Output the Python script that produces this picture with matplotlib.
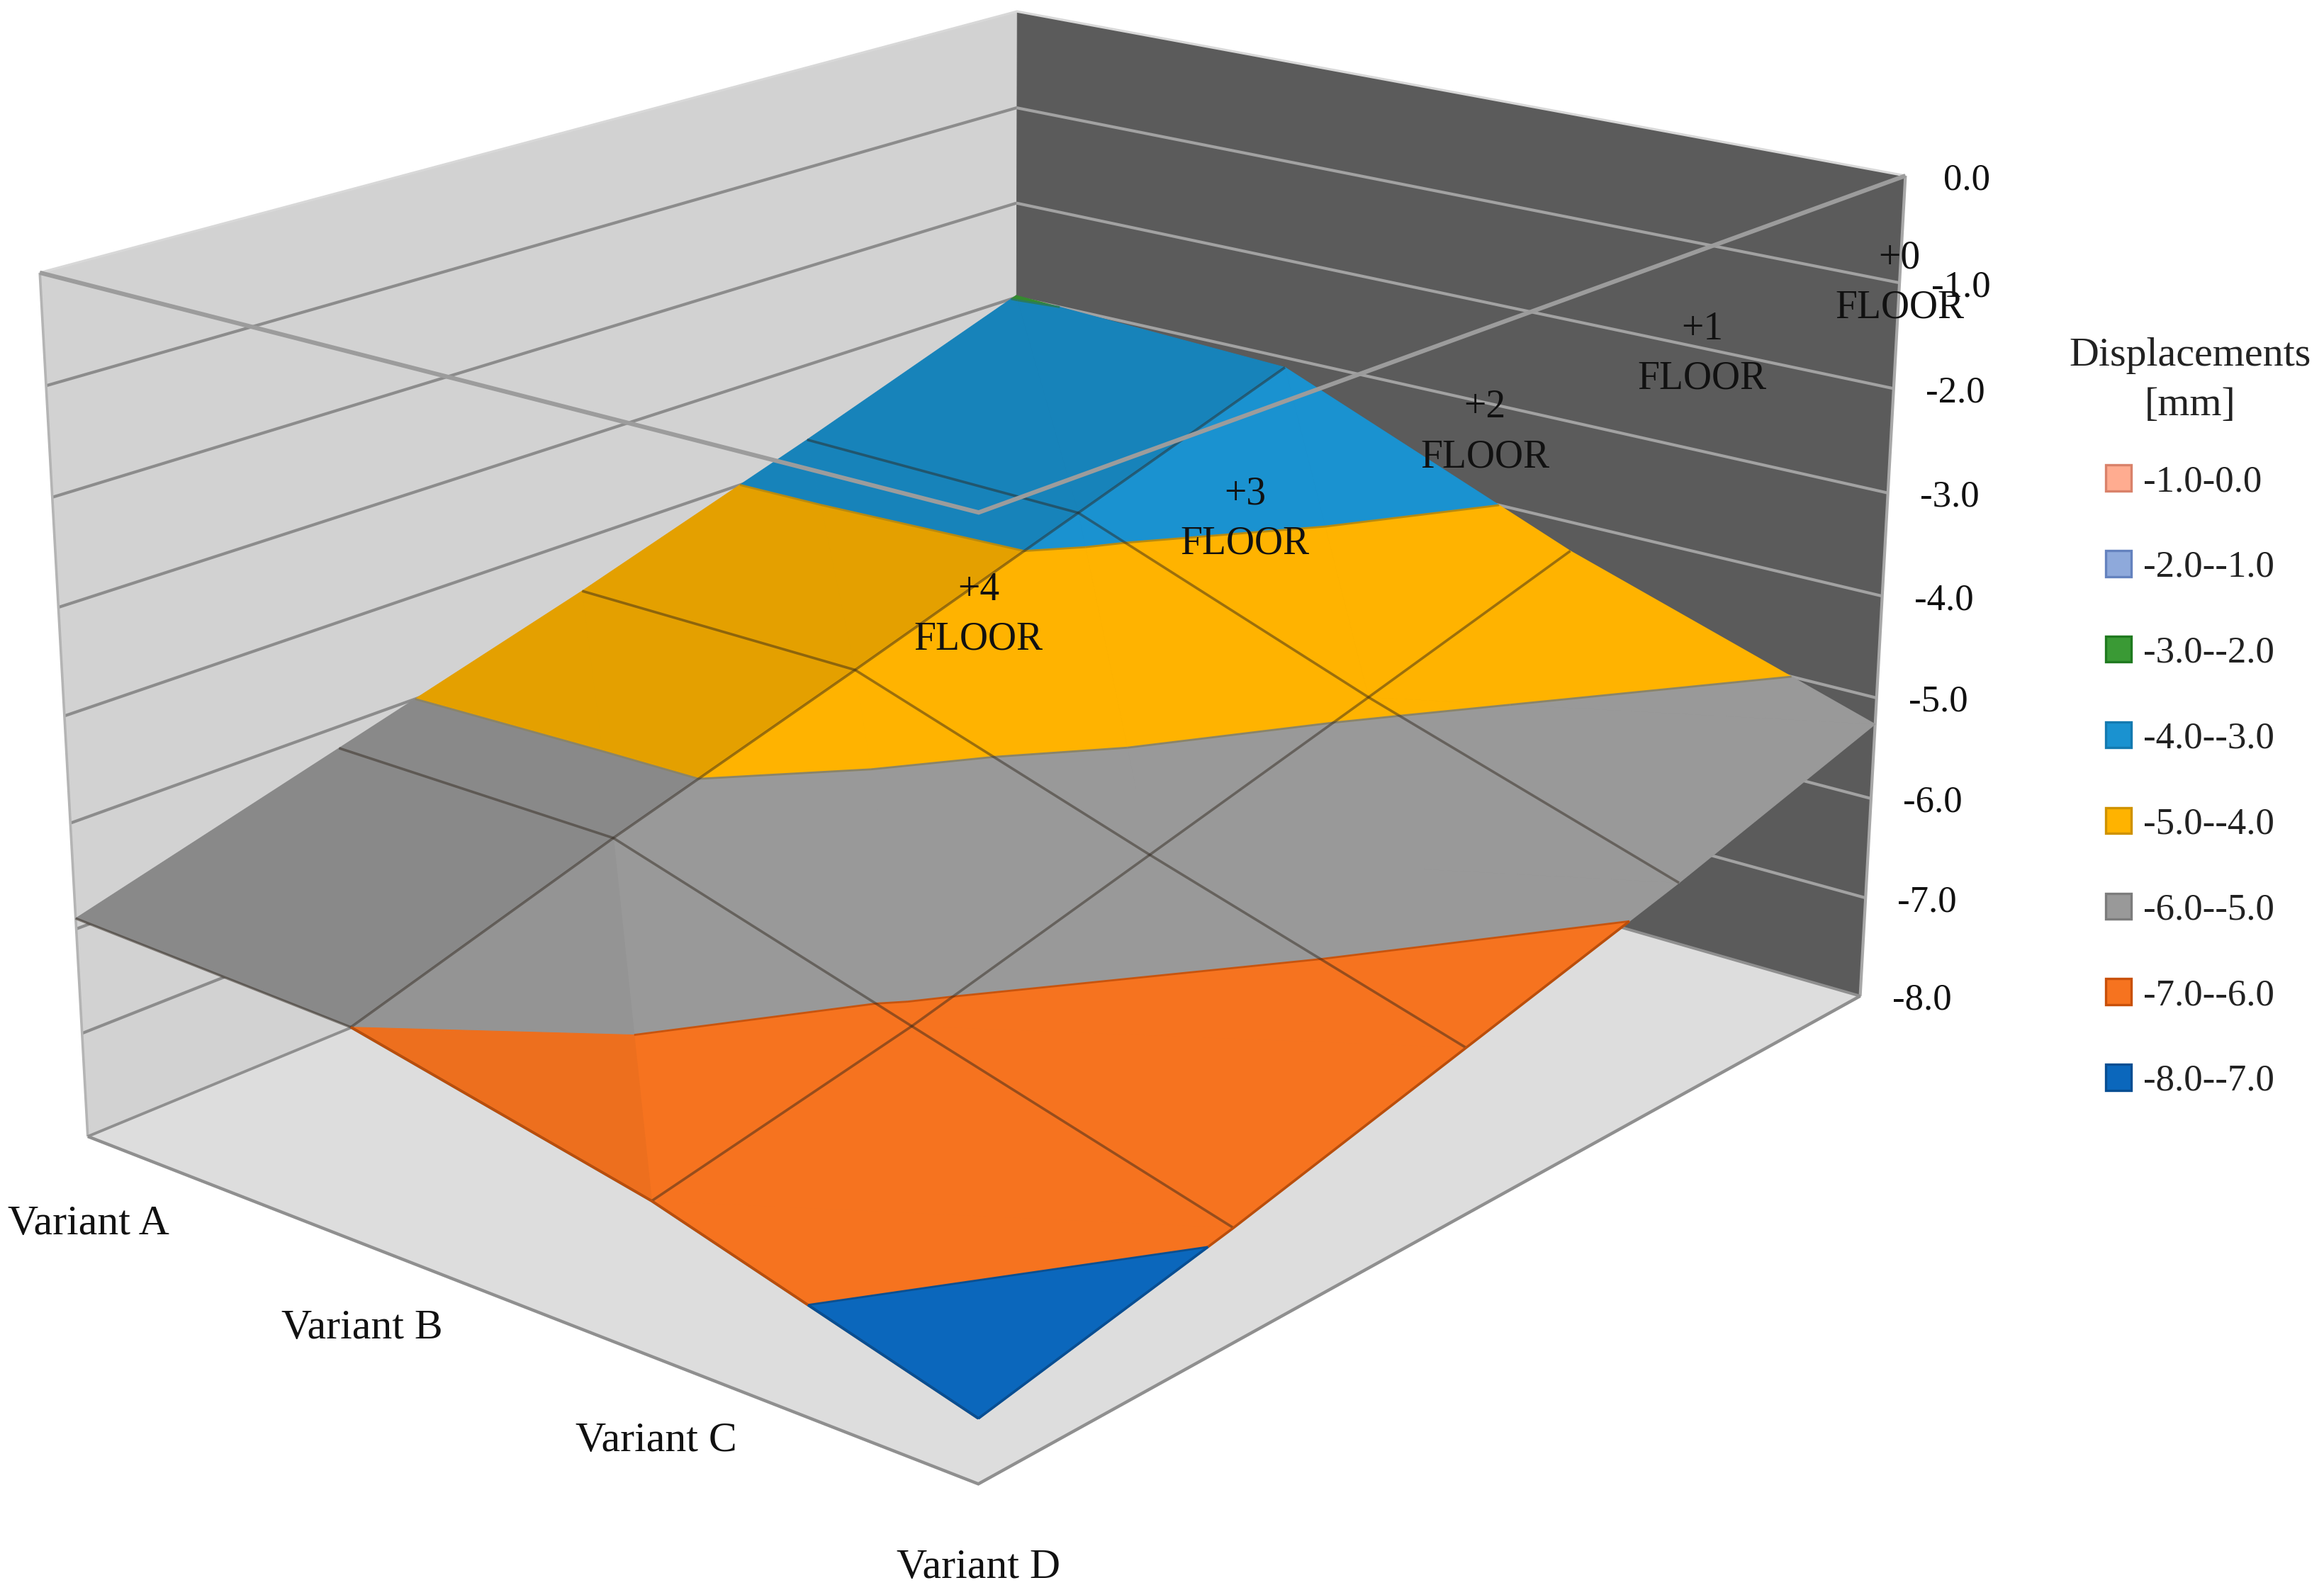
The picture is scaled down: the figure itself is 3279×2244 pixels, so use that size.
import numpy as np
import matplotlib
matplotlib.use("Agg")
import matplotlib.pyplot as plt
from matplotlib.patches import Patch
from mpl_toolkits.mplot3d import proj3d
from mpl_toolkits.mplot3d.art3d import Poly3DCollection, Line3DCollection

plt.rcParams['font.family'] = ['Liberation Serif', 'DejaVu Serif']

# ---------- data ----------
variants = ["Variant A", "Variant B", "Variant C", "Variant D"]
floors = ["+0\nFLOOR", "+1\nFLOOR", "+2\nFLOOR", "+3\nFLOOR", "+4\nFLOOR"]
floor0 = [-2.98, -3.10, -4.29, -5.26]
floor1 = [-3.77, -3.82, -4.90, -5.87]
floor2 = [-4.52, -4.54, -5.50, -6.41]
floor3 = [-5.21, -5.24, -6.10, -6.95]
floor4 = [-5.90, -6.00, -6.59, -7.43]
z_ticks = [0, -1, -2, -3, -4, -5, -6, -7, -8]
band_edges = [0, -1, -2, -3, -4, -5, -6, -7, -8]
band_labels = ["-1.0-0.0", "-2.0--1.0", "-3.0--2.0", "-4.0--3.0",
               "-5.0--4.0", "-6.0--5.0", "-7.0--6.0", "-8.0--7.0"]
band_colors = ["#FFAC90", "#8EA9DB", "#3A9A35", "#1A92D0",
               "#FFB300", "#999999", "#F6731F", "#0B67BC"]
band_edge_colors = ["#D9826A", "#6482BE", "#1F7A1F", "#147AB0",
                    "#CF9200", "#7C7C7C", "#C8500A", "#084E92"]
level_colors = {-3: "#2A7A60", -4: "#B88A10", -5: "#8A8468", -6: "#C8540E", -7: "#0A4F90"}
column_shade = [0.895, 1.0, 1.0]

Z = np.array([floor0, floor1, floor2, floor3, floor4])
n_f, n_v = Z.shape
x_max, f_max, z_min, z_max = n_v - 1, n_f - 1, min(z_ticks), max(z_ticks)

# ---------- camera: perspective fitted to the box corners of the chart ----------
W, H = 3280, 2244
box3d = np.array([[0,0,0],[3,0,0],[0,4,0],[3,4,0],[0,0,-8],[3,0,-8],[0,4,-8],[3,4,-8]], float)
box2d = np.array([[1435,17],[2689,248],[56,384],[1380,723],
                  [1431,1061],[2625,1407],[125,1606],[1380,2093]], float)
ndc = np.c_[(box2d[:,0]-W/2)/(W/2), (H/2-box2d[:,1])/(H/2)]
rows = []
for (x, y, z), (u, v) in zip(box3d, ndc):
    rows.append([x,y,z,1,0,0,0,0,-u*x,-u*y,-u*z,-u])
    rows.append([0,0,0,0,x,y,z,1,-v*x,-v*y,-v*z,-v])
P = np.linalg.svd(np.array(rows))[2][-1].reshape(3, 4)
cam = np.linalg.svd(P)[2][-1]
M = np.vstack([P[0], P[1], cam, P[2]])

fig = plt.figure(figsize=(16.4, 11.22), dpi=200, facecolor="white")
ax = fig.add_axes([0, 0, 1, 1], projection="3d")
ax.computed_zorder = False
ax.set_axis_off()
ax.set_xlim(0, x_max); ax.set_ylim(0, f_max); ax.set_zlim(z_min, z_max)
ax.get_proj = lambda: M
ax.apply_aspect = lambda position=None: None
ax.viewLim.intervalx = (-1, 1)
ax.viewLim.intervaly = (-1, 1)

def line3d(xs, ys, zs, color, lw, zo, cap="butt"):
    pts = np.column_stack([np.broadcast_to(xs, np.shape(zs)) if np.ndim(xs) == 0 else xs,
                           np.broadcast_to(ys, np.shape(zs)) if np.ndim(ys) == 0 else ys, zs])
    ax.add_collection3d(Line3DCollection([pts], colors=[color], linewidths=lw, zorder=zo,
                                         capstyle=cap, joinstyle="miter"), autolim=False)

def pane(verts, color, zo):
    ax.add_collection3d(Poly3DCollection([verts], facecolors=color, edgecolors=color,
                                         linewidths=0.3, zorder=zo), autolim=False)

def label3d(x, f, z, s, dx=0, dy=0, **kw):
    """Text at a projected point of the chart box, dx/dy in picture pixels."""
    u, v, _ = proj3d.proj_transform(x, f, z, M)
    ax.text2D(float(u) + dx / (W / 2), float(v) - dy / (H / 2), s, transform=ax.transData,
              ha="center", va="center", color="#111111", zorder=10, **kw)

# ---------- walls and floor ----------
pane([(0,0,z_max),(0,f_max,z_max),(0,f_max,z_min),(0,0,z_min)], "#D2D2D2", 1)
pane([(0,0,z_max),(x_max,0,z_max),(x_max,0,z_min),(0,0,z_min)], "#5B5B5B", 1)
pane([(0,0,z_min),(x_max,0,z_min),(x_max,f_max,z_min),(0,f_max,z_min)], "#DDDDDD", 2)

frame = "#8F8F8F"
for z in z_ticks[1:-1]:
    line3d([0, 0], [f_max, 0], [z, z], "#8C8C8C", 1.5, 3)
    line3d([0, x_max], [0, 0], [z, z], "#A2A2A2", 1.5, 3)
line3d([0, 0, x_max], [f_max, 0, 0], [z_max]*3, "#D8D8D8", 1.2, 3)
line3d([0, 0], [f_max, f_max], [z_max, z_min], "#B4B4B4", 1.3, 3)
line3d([x_max, x_max], [0, 0], [z_max, z_min], "#A8A8A8", 1.5, 3)
line3d([0, x_max, x_max], [f_max, f_max, 0], [z_min]*3, frame, 1.6, 4)
line3d([0, 0, x_max], [f_max, 0, 0], [z_min]*3, "#8F8F8F", 1.4, 3)

# ---------- banded surface ----------
def clip(poly, level, keep_above, closed=True):
    out = []
    n = len(poly)
    for k in range(n if closed else n - 1):
        a, b = np.array(poly[k]), np.array(poly[(k+1) % n])
        ina = a[2] >= level if keep_above else a[2] <= level
        inb = b[2] >= level if keep_above else b[2] <= level
        if ina:
            out.append(tuple(a))
        if ina != inb:
            t = (level - a[2]) / (b[2] - a[2])
            out.append(tuple(a + t * (b - a)))
    if not closed:
        last = np.array(poly[-1])
        if (last[2] >= level) == keep_above or last[2] == level:
            out.append(tuple(last))
    return out

triangles = []
for f in range(n_f - 1):
    for i in range(n_v - 1):
        p00 = (i, f, Z[f, i]); p10 = (i+1, f, Z[f, i+1])
        p01 = (i, f+1, Z[f+1, i]); p11 = (i+1, f+1, Z[f+1, i+1])
        low = column_shade[i] * (0.965 if i == 1 and f == n_f - 2 else 1.0)
        if i == n_v - 2:                     # last column: the other diagonal
            triangles.append(([p00, p10, p01], low))
            triangles.append(([p10, p11, p01], column_shade[i]))
        else:
            triangles.append(([p00, p01, p11], low))
            triangles.append(([p00, p10, p11], column_shade[i]))

for b, col in enumerate(band_colors):
    hi, lo = band_edges[b], band_edges[b+1]
    polys, cols = [], []
    base = np.array(matplotlib.colors.to_rgb(col))
    for tri, shade in triangles:
        poly = clip(clip(tri, lo, True), hi, False)
        if len(poly) >= 3:
            polys.append(poly)
            cols.append(tuple(base * shade))
    if polys:
        ax.add_collection3d(Poly3DCollection(polys, facecolors=cols, edgecolors=cols,
                                             linewidths=0.4, zorder=5), autolim=False)

# band boundary lines
for level, col in level_colors.items():
    segs = []
    for tri, _ in triangles:
        pts = []
        for k in range(3):
            a, b = np.array(tri[k]), np.array(tri[(k+1) % 3])
            if (a[2] - level) * (b[2] - level) < 0:
                t = (level - a[2]) / (b[2] - a[2])
                pts.append(a + t * (b - a))
        if len(pts) == 2:
            segs.append(pts)
    ax.add_collection3d(Line3DCollection(segs, colors=col, linewidths=1.0, zorder=6), autolim=False)

# mesh lines of the surface
wire = (0.18, 0.14, 0.10, 0.47)
xs = np.arange(n_v); fs = np.arange(n_f)
for f in fs[1:]:
    line3d(xs, f, Z[f], wire, 1.3, 7)
for i in xs[1:-1]:
    line3d(i, fs, Z[:, i], wire, 1.3, 7)

# the two front edges are outlined in the dark tone of the lowest bands
front_edges = [list(zip(xs, [f_max]*n_v, Z[f_max])), list(zip([x_max]*n_f, fs, Z[:, x_max]))]
for edge in front_edges:
    for hi, lo, col in ((-6, -7, "#B94E0C"), (-7, -8, "#084E92")):
        part = clip(clip(edge, lo, True, closed=False), hi, False, closed=False)
        if len(part) >= 2:
            ax.add_collection3d(Line3DCollection([part], colors=col, linewidths=1.3, zorder=7.5), autolim=False)

# open top frame, in front of the surface
line3d([0, x_max, x_max], [f_max, f_max, 0], [z_max]*3, "#9C9C9C", 2.2, 8)

# ---------- text ----------
floor_label_z = [-1.0, -0.95, -0.9, -0.85, -0.8]
variant_label_z = [-8.865, -8.82, -8.765, -8.74]
variant_label_dx = [-6, -1, 0, 0]
for z in z_ticks:
    label3d(x_max, 0, z, f"{z:.1f}", dx=87, dy=6, fontsize=19)
for i, name in enumerate(variants):
    label3d(i, f_max, variant_label_z[i], name, dx=variant_label_dx[i], fontsize=21.5)
for f, name in enumerate(floors):
    label3d(x_max, f, floor_label_z[f], name, linespacing=1.45, fontsize=20)

handles = [Patch(facecolor=c, edgecolor=e, linewidth=1.2) for c, e in zip(band_colors, band_edge_colors)]
leg = fig.legend(handles, band_labels, title="Displacements\n[mm]", frameon=False,
                 loc="center", bbox_to_anchor=(3090/W, 1-1013/H),
                 fontsize=19, title_fontsize=20.9, labelspacing=1.38,
                 handlelength=0.68, handleheight=0.68, handletextpad=0.32, alignment="center")
for t in leg.get_texts():
    t.set_color("#222222")
leg.get_title().set_color("#222222")
leg.get_title().set_linespacing(1.45)
leg.get_title().set_multialignment("center")
leg._legend_box.sep = 1.1 * 19

fig.savefig("out.png", dpi=200)
